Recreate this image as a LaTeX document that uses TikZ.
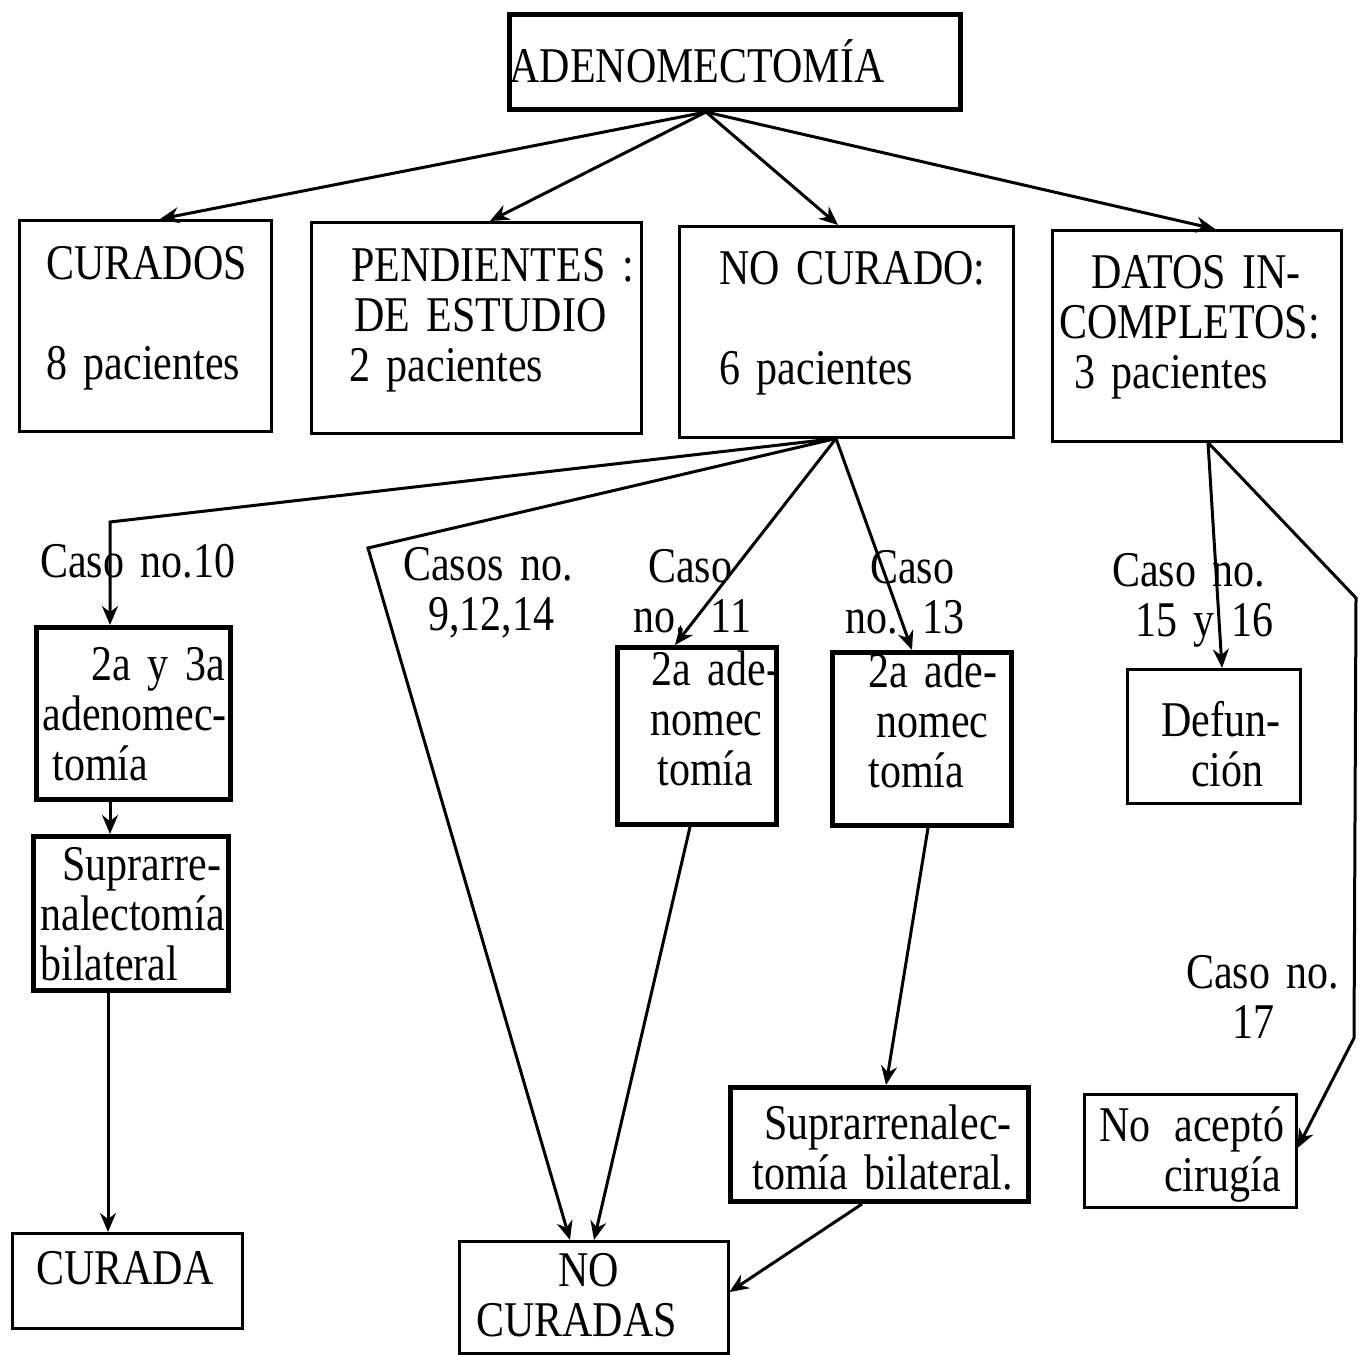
\documentclass[tikz,border=0pt]{standalone}
\usepackage{fontspec}
\setmainfont{Liberation Serif}[FakeStretch=0.84]
\usetikzlibrary{arrows.meta}
\newcommand{\diagfont}{\fontsize{50}{50}\selectfont\spaceskip=10.5pt\relax}
\hyphenpenalty=10000
\exhyphenpenalty=10000

\begin{document}
\begin{tikzpicture}[
  x=1pt, y=-1pt,
  box/.style={draw, line width=2.5pt, anchor=north west, inner sep=0pt, align=left, text height=35pt, font=\diagfont},
  heavybox/.style={box, line width=5pt},
  caselabel/.style={anchor=base west, inner sep=0pt, align=left, text width=250pt, font=\diagfont},
  arrow/.style={draw, line width=3pt, -{Stealth[length=19pt, width=16pt]}}
]
  \useasboundingbox (0,0) rectangle (1362,1354);

  % Nodes
  \node[heavybox, minimum width=451pt, minimum height=95pt, text width=451pt, text height=45pt, text depth=4pt] (adeno) at (507,12) {ADENOMECTOMÍA};
  \node[box, minimum width=252pt, minimum height=211pt, text width=252pt, text depth=128pt] (curados) at (18,219) {\hspace*{27pt}CURADOS\\[50pt]\hspace*{27pt}8~pacientes};
  \node[box, minimum width=330pt, minimum height=211pt, text width=330pt, text depth=128pt] (pendientes) at (310,221) {\hspace*{40pt}PENDIENTES~:\\\hspace*{43pt}DE~ESTUDIO\\\hspace*{38pt}2~pacientes};
  \node[box, minimum width=334pt, minimum height=211pt, text width=334pt, text depth=130pt] (nocurado) at (678,225) {\hspace*{40pt}NO~CURADO:\\[50pt]\hspace*{40pt}6~pacientes};
  \node[box, minimum width=289pt, minimum height=211pt, text width=289pt, text depth=130pt] (datos) at (1051,229) {\hspace*{39pt}DATOS~IN-\\\hspace*{7pt}COMPLETOS:\\\hspace*{22pt}3~pacientes};

  \node[heavybox, minimum width=194pt, minimum height=172pt, text width=194pt, text depth=101pt] (reintervencion) at (34,625) {\hspace*{55pt}2a~y~3a\\\hspace*{6pt}adenomec-\\\hspace*{16pt}tomía};
  \node[heavybox, minimum width=195pt, minimum height=154pt, text width=195pt, text depth=101pt] (supraizq) at (31,834) {\hspace*{29pt}Suprarre-\\\hspace*{7pt}nalectomía\\\hspace*{7pt}bilateral};
  \node[box, minimum width=230pt, minimum height=95pt, text width=230pt, text depth=28pt] (curada) at (11,1232) {\hspace*{24pt}CURADA};
  \node[heavybox, minimum width=159pt, minimum height=177pt, text width=159pt, text depth=136pt] (adeonce) at (615,645) {\hspace*{34pt}2a~ade-\\\hspace*{33pt}nomec\\\hspace*{40pt}tomía};
  \node[heavybox, minimum width=179pt, minimum height=173pt, text width=179pt, text height=34pt, text depth=137pt] (adetrece) at (830,650) {\hspace*{36pt}2a~ade-\\\hspace*{44pt}nomec\\\hspace*{36pt}tomía};
  \node[box, minimum width=173pt, minimum height=134pt, text width=173pt, text depth=35pt] (defuncion) at (1126,668) {\hspace*{34pt}Defun-\\\hspace*{64pt}ción};
  \node[heavybox, minimum width=298pt, minimum height=114pt, text width=298pt, text depth=45pt] (supradcha) at (728,1085) {\hspace*{34pt}Suprarrenalec-\\\hspace*{22pt}tomía~bilateral.};
  \node[box, minimum width=269pt, minimum height=112pt, text width=269pt, text depth=57pt] (nocuradas) at (458,1240) {\hspace*{99pt}NO\\\hspace*{17pt}CURADAS};
  \node[box, minimum width=212pt, minimum height=113pt, text width=212pt, text depth=54pt] (noacepto) at (1083,1093) {\hspace*{15pt}No\nobreak\hspace{24pt}aceptó\\\hspace*{80pt}cirugía};

  % Case labels
  \node[caselabel] (casodiez) at (40,577) {Caso no.10};
  \node[caselabel] (casosvarios) at (403,580) {Casos no.\\\hspace*{25pt}9,12,14};
  \node[caselabel] (casoonce) at (633,582) {\hspace*{15pt}Caso\\no. 11};
  \node[caselabel] (casotrece) at (845,583) {\hspace*{25pt}Caso\\no. 13};
  \node[caselabel] (casosdefun) at (1112,586) {Caso no.\\\hspace*{23pt}15 y 16};
  \node[caselabel] (casodiecisiete) at (1186,988) {Caso no.\\\hspace*{46pt}17};

  % Branch points
  \coordinate (adenofoot) at ([xshift=199pt]adeno.south west);
  \coordinate (nofoot) at ([xshift=158pt]nocurado.south west);
  \coordinate (datosfoot) at ([xshift=157pt]datos.south west);
  \coordinate (k10) at (110,522);
  \coordinate (k91214) at (368,548);
  \coordinate (k17a) at (1356,598);
  \coordinate (k17b) at (1354,1038);

  % Arrows
  \draw[arrow] (adenofoot) -- ([xshift=142pt]curados.north west);
  \draw[arrow] (adenofoot) -- ([xshift=180pt]pendientes.north west);
  \draw[arrow] (adenofoot) -- ([xshift=160pt]nocurado.north west);
  \draw[arrow] (adenofoot) -- ([xshift=164pt]datos.north west);
  \draw[arrow] (nofoot) -- (k10) -- (k10 |- reintervencion.north);
  \draw[arrow] (nofoot) -- (k91214) -- ([xshift=112pt]nocuradas.north west);
  \draw[arrow] (nofoot) -- ([xshift=60pt]adeonce.north west);
  \draw[arrow] (nofoot) -- ([xshift=82pt]adetrece.north west);
  \draw[arrow] (k10 |- reintervencion.south) -- (k10 |- supraizq.north);
  \draw[arrow] ([xshift=77pt]supraizq.south west) -- ([xshift=97pt]curada.north west);
  \draw[arrow] ([xshift=75pt]adeonce.south west) -- ([xshift=136pt]nocuradas.north west);
  \draw[arrow] ([xshift=98pt]adetrece.south west) -- ([xshift=158pt]supradcha.north west);
  \draw[arrow] ([xshift=134pt]supradcha.south west) -- ([yshift=-52pt]nocuradas.north east);
  \draw[arrow] (datosfoot) -- ([xshift=96pt]defuncion.north west);
  \draw[arrow] (datosfoot) -- (k17a) -- (k17b) -- ([yshift=-55pt]noacepto.north east);
\end{tikzpicture}
\end{document}
